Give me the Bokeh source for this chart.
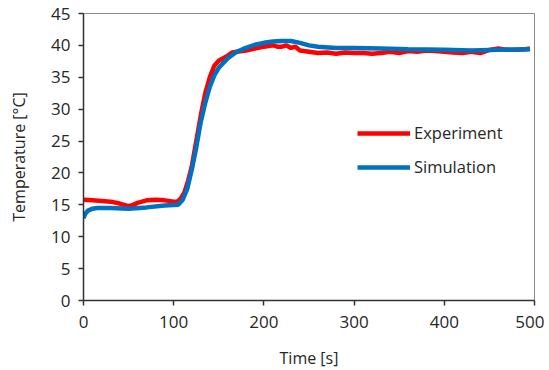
from bokeh.plotting import figure
from bokeh.models import Range1d, FixedTicker, Legend, LegendItem
from bokeh.embed import file_html
from bokeh.resources import INLINE

# Experiment (red)
exp_t = [0, 10, 20, 30, 40, 50, 55, 60, 70, 80, 90, 100, 104, 108, 112, 116, 120, 125, 130, 135,
         140, 145, 150, 155, 160, 165, 170, 180, 190, 200, 210, 215, 220, 225, 230, 235, 240, 250,
         260, 270, 280, 290, 300, 310, 320, 330, 340, 350, 360, 370, 380, 390, 400, 410, 420, 430,
         440, 450, 460, 470, 480, 490, 495]
exp_T = [15.8, 15.7, 15.6, 15.5, 15.2, 14.8, 15.0, 15.3, 15.7, 15.8, 15.7, 15.5, 15.5, 16.0, 17.0, 18.8, 21.0, 25.0, 29.0, 32.5,
         35.0, 36.8, 37.6, 38.0, 38.4, 38.9, 39.0, 39.2, 39.5, 39.8, 40.0, 39.8, 39.8, 40.0, 39.6, 39.8, 39.2, 39.0,
         38.8, 38.9, 38.7, 38.9, 38.8, 38.8, 38.7, 38.8, 39.0, 38.8, 39.1, 39.0, 39.2, 39.1, 39.0, 38.9, 38.8, 39.0,
         38.8, 39.3, 39.5, 39.3, 39.3, 39.4, 39.5]

# Simulation (blue)
sim_t = [0, 2, 5, 10, 15, 30, 50, 70, 90, 105, 110, 115, 120, 125, 130, 135, 140, 145, 150, 160,
         170, 180, 190, 200, 210, 220, 230, 240, 250, 260, 280, 300, 330, 360, 400, 430, 460, 495]
sim_T = [12.9, 13.6, 14.1, 14.4, 14.5, 14.5, 14.4, 14.6, 14.9, 15.0, 15.8, 17.5, 20.5, 24.0, 28.0, 31.0, 33.5, 35.3, 36.5, 38.0,
         39.0, 39.6, 40.1, 40.4, 40.6, 40.7, 40.7, 40.4, 40.0, 39.8, 39.6, 39.6, 39.5, 39.4, 39.3, 39.2, 39.3, 39.4]

x_ticks = [0, 100, 200, 300, 400, 500]
y_ticks = [0, 5, 10, 15, 20, 25, 30, 35, 40, 45]

FONT = "Open Sans"
TXT = "#262626"

p = figure(frame_width=451, frame_height=287, output_backend="svg", toolbar_location=None,
           x_range=Range1d(0, 500), y_range=Range1d(0, 45),
           min_border_left=83, min_border_right=10, min_border_top=13, min_border_bottom=64)

p.xgrid.visible = False
p.ygrid.visible = False
p.outline_line_color = "#8c8c8c"
p.outline_line_width = 1

r_exp = p.line(exp_t, exp_T, line_color="#ff0000", line_width=4.5)
r_sim = p.line(sim_t, sim_T, line_color="#0070c0", line_width=4.5)

for ax in (p.xaxis[0], p.yaxis[0]):
    ax.axis_line_color = "#333333"
    ax.axis_line_width = 1.5
    ax.major_tick_line_color = "#333333"
    ax.major_tick_line_width = 1.5
    ax.major_tick_in = 0
    ax.major_tick_out = 5
    ax.minor_tick_line_color = None
    ax.major_label_text_font = FONT
    ax.major_label_text_font_size = "17px"
    ax.major_label_text_color = TXT
    ax.axis_label_text_font = FONT
    ax.axis_label_text_font_size = "16px"
    ax.axis_label_text_font_style = "normal"
    ax.axis_label_text_color = TXT

p.xaxis[0].ticker = FixedTicker(ticks=x_ticks)
p.yaxis[0].ticker = FixedTicker(ticks=y_ticks)
p.xaxis[0].axis_label = "Time [s]"
p.yaxis[0].axis_label = "Temperature [\u00b0C]"
p.xaxis[0].major_label_standoff = 10
p.yaxis[0].major_label_standoff = 8
p.xaxis[0].axis_label_standoff = 16
p.yaxis[0].axis_label_standoff = 18

legend = Legend(items=[LegendItem(label="Experiment", renderers=[r_exp]),
                       LegendItem(label="Simulation", renderers=[r_sim])],
                location=(274, 122), border_line_color=None, background_fill_alpha=0,
                padding=0, margin=0, spacing=11, glyph_width=53, glyph_height=20,
                label_height=20, label_standoff=4, label_text_font=FONT,
                label_text_font_size="16.5px", label_text_color=TXT)
p.add_layout(legend, "center")

open("out.html", "w").write(file_html(p, INLINE))
